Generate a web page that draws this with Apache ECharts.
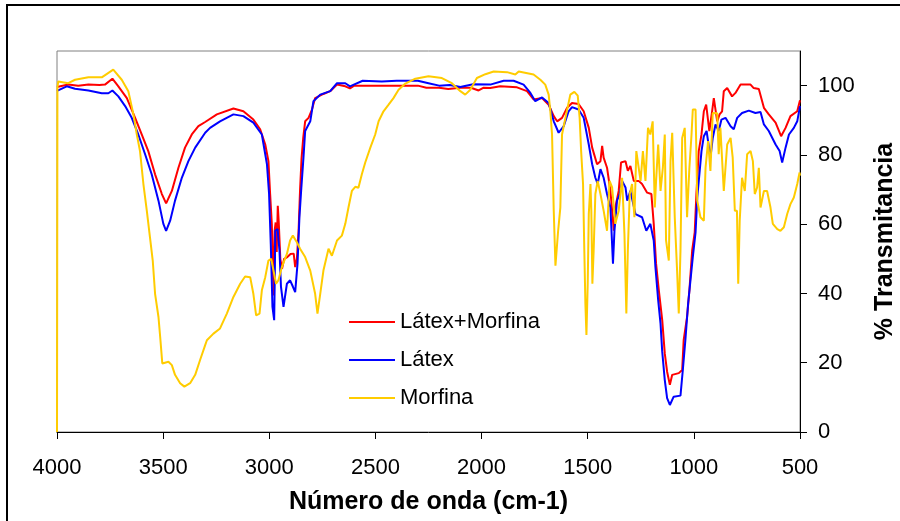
<!DOCTYPE html>
<html>
<head>
<meta charset="utf-8">
<script src="https://cdn.jsdelivr.net/npm/echarts@6/dist/echarts.min.js"></script>
<style>
  html, body { margin: 0; padding: 0; background: #fff; }
  #echarts { width: 900px; height: 521px; }
</style>
</head>
<body>
<div id="echarts"></div>
<script>
// espectros IR: [numero de onda (cm-1), % transmitancia]
const latexMorfina = [
    [4000, 99.6], [3994, 99.8], [3947, 100.3], [3900, 100.0], [3852, 100.3], [3800, 100.2], [3774, 100.3],
    [3739, 102.0], [3711, 99.8], [3671, 96.4], [3632, 90.7], [3601, 85.9], [3570, 81.1], [3538, 74.4],
    [3506, 68.7], [3486, 66.0], [3459, 69.6], [3428, 76.3], [3397, 82.1], [3365, 85.9], [3334, 88.3],
    [3302, 89.5], [3247, 91.7], [3169, 93.4], [3122, 92.6], [3075, 90.2], [3043, 87.4], [3019, 83.0],
    [3004, 78.2], [2996, 68.7], [2988, 60.0], [2982, 45.0], [2979, 39.4], [2975, 58.0], [2970, 60.5],
    [2965, 52.0], [2960, 65.3], [2955, 60.0], [2948, 50.0], [2940, 47.1], [2930, 50.0], [2915, 50.5],
    [2900, 51.4], [2885, 51.5], [2878, 47.6], [2870, 50.0], [2862, 58.0], [2855, 70.0], [2848, 79.0],
    [2840, 85.0], [2831, 89.7], [2815, 90.7], [2799, 93.1], [2784, 96.4], [2745, 97.6], [2713, 98.4],
    [2681, 100.3], [2642, 99.8], [2620, 99.2], [2600, 100.0], [2500, 100.0], [2400, 100.0], [2300, 100.0],
    [2260, 99.4], [2200, 99.4], [2157, 99.0], [2100, 99.4], [2050, 99.4], [2014, 98.6], [1990, 99.4],
    [1959, 99.3], [1912, 99.8], [1833, 99.5], [1786, 98.4], [1755, 96.0], [1715, 96.4], [1684, 94.5],
    [1660, 91.2], [1644, 89.7], [1621, 90.7], [1597, 93.6], [1574, 95.0], [1543, 94.7], [1519, 92.6],
    [1495, 87.8], [1479, 82.1], [1456, 77.3], [1440, 78.2], [1432, 82.6], [1425, 79.2], [1409, 76.3],
    [1393, 69.6], [1377, 58.1], [1370, 64.8], [1354, 69.6], [1343, 77.8], [1322, 78.2], [1311, 75.4],
    [1299, 76.8], [1283, 72.5], [1260, 72.5], [1244, 71.6], [1220, 69.1], [1200, 68.7], [1189, 60.1],
    [1178, 48.6], [1165, 40.9], [1149, 32.3], [1137, 22.7], [1126, 17.4], [1113, 13.6], [1102, 16.5],
    [1071, 17.0], [1055, 17.9], [1048, 26.5], [1032, 33.2], [1021, 40.9], [1008, 52.4], [996, 57.6],
    [988, 68.7], [977, 81.1], [964, 85.9], [953, 92.6], [942, 94.5], [935, 94.0], [927, 86.9], [914, 92.6],
    [906, 96.4], [898, 96.9], [890, 89.7], [879, 91.7], [867, 92.6], [859, 98.4], [843, 99.3], [820, 96.9],
    [804, 97.9], [780, 100.3], [733, 100.3], [718, 99.3], [694, 99.0], [670, 93.6], [647, 91.7], [615, 89.3],
    [589, 85.4], [568, 87.8], [545, 91.2], [513, 92.6], [500, 95.8]
];

const latex = [
    [4000, 98.5], [3994, 98.8], [3954, 99.8], [3915, 99.1], [3852, 98.6], [3789, 97.8], [3758, 97.8],
    [3739, 98.6], [3711, 96.9], [3679, 94.1], [3648, 90.7], [3617, 85.9], [3585, 80.2], [3554, 74.4],
    [3522, 66.8], [3499, 60.1], [3486, 58.1], [3467, 61.0], [3444, 66.8], [3412, 73.4], [3381, 78.2],
    [3349, 82.1], [3302, 86.4], [3279, 87.8], [3232, 89.7], [3169, 91.7], [3122, 91.2], [3075, 89.3],
    [3035, 85.9], [3011, 77.3], [3001, 68.7], [2993, 54.3], [2985, 36.1], [2977, 32.3], [2974, 45.0],
    [2972, 58.1], [2961, 58.6], [2952, 52.4], [2945, 42.0], [2933, 36.1], [2917, 42.8], [2902, 43.8],
    [2889, 42.0], [2878, 40.4], [2867, 48.6], [2858, 62.0], [2850, 69.6], [2839, 79.2], [2831, 86.9],
    [2807, 89.7], [2792, 95.5], [2760, 97.4], [2713, 98.4], [2681, 100.7], [2642, 100.7], [2620, 99.8],
    [2560, 101.4], [2470, 101.2], [2400, 101.4], [2300, 101.4], [2250, 100.7], [2200, 100.0], [2150, 100.2],
    [2100, 99.6], [2040, 100.4], [1959, 100.3], [1896, 101.4], [1849, 101.4], [1802, 100.3], [1770, 97.9],
    [1747, 95.5], [1715, 96.6], [1684, 95.0], [1660, 89.7], [1637, 86.4], [1613, 88.3], [1590, 92.6],
    [1574, 93.8], [1543, 93.1], [1519, 90.7], [1495, 83.0], [1479, 77.3], [1464, 73.4], [1453, 71.6],
    [1440, 75.9], [1425, 73.4], [1409, 68.7], [1393, 64.8], [1381, 48.6], [1374, 58.1], [1362, 66.8],
    [1349, 68.7], [1338, 72.5], [1322, 70.6], [1314, 66.8], [1299, 69.6], [1275, 62.9], [1244, 62.0],
    [1224, 58.1], [1205, 60.1], [1189, 55.3], [1181, 47.6], [1168, 38.0], [1157, 31.3], [1149, 23.2],
    [1137, 15.0], [1126, 9.8], [1113, 7.8], [1095, 10.2], [1063, 10.5], [1052, 17.9], [1040, 26.5],
    [1027, 37.1], [1016, 43.8], [1005, 50.5], [992, 57.6], [984, 67.7], [974, 74.4], [964, 81.1],
    [953, 85.4], [940, 86.9], [922, 79.2], [911, 84.9], [898, 88.8], [883, 86.9], [870, 90.2], [851, 90.7],
    [827, 88.3], [812, 87.4], [796, 90.7], [773, 92.1], [741, 92.8], [710, 92.1], [686, 92.4], [670, 88.8],
    [647, 86.9], [615, 83.0], [596, 81.1], [584, 77.8], [568, 82.1], [552, 85.9], [529, 87.8], [513, 89.7],
    [500, 94.1]
];

const morfina = [
    [4000, 0], [3998, 99.5], [3994, 101.2], [3947, 100.7], [3915, 101.7], [3852, 102.4], [3789, 102.4],
    [3735, 104.6], [3695, 101.7], [3664, 98.4], [3640, 91.7], [3624, 85.9], [3609, 81.1], [3593, 71.6],
    [3577, 63.9], [3562, 56.2], [3549, 49.5], [3538, 39.9], [3522, 33.2], [3514, 27.5], [3504, 19.8],
    [3475, 20.3], [3459, 19.3], [3444, 16.5], [3420, 14.1], [3400, 13.1], [3373, 14.1], [3349, 16.5],
    [3326, 20.8], [3302, 25.1], [3294, 26.5], [3263, 28.4], [3232, 29.9], [3200, 34.2], [3169, 39.0],
    [3137, 42.8], [3114, 44.9], [3090, 44.7], [3075, 39.9], [3062, 33.7], [3046, 34.2], [3035, 40.9],
    [3019, 44.7], [3004, 49.5], [2991, 50.0], [2980, 46.6], [2968, 42.8], [2957, 43.8], [2941, 47.6],
    [2917, 51.4], [2902, 55.3], [2889, 56.7], [2870, 54.8], [2855, 52.9], [2831, 50.5], [2807, 46.6],
    [2784, 39.9], [2773, 34.2], [2760, 39.9], [2745, 46.6], [2721, 52.9], [2705, 50.9], [2681, 55.3],
    [2658, 56.7], [2642, 60.1], [2627, 64.8], [2611, 69.6], [2595, 70.8], [2580, 70.5], [2564, 74.4],
    [2548, 77.8], [2524, 82.1], [2501, 85.9], [2485, 89.7], [2462, 92.6], [2438, 94.5], [2415, 96.4],
    [2391, 98.8], [2359, 100.6], [2312, 102.0], [2250, 102.7], [2187, 102.2], [2140, 100.7], [2100, 98.4],
    [2077, 97.4], [2053, 98.8], [2022, 102.2], [1982, 103.3], [1943, 104.1], [1880, 103.9], [1841, 103.2],
    [1825, 104.1], [1755, 103.2], [1723, 101.7], [1700, 100.3], [1684, 97.4], [1676, 92.6], [1668, 85.9],
    [1660, 63.9], [1652, 48.0], [1647, 48.0], [1640, 57.6], [1629, 64.8], [1621, 85.9], [1605, 90.7],
    [1582, 97.4], [1563, 98.2], [1547, 97.1], [1538, 90.7], [1531, 81.1], [1522, 71.6], [1516, 52.4],
    [1511, 37.1], [1506, 28.0], [1500, 42.8], [1495, 62.9], [1487, 71.6], [1483, 63.9], [1478, 42.8],
    [1472, 52.4], [1464, 68.7], [1453, 72.5], [1440, 68.7], [1425, 63.9], [1409, 58.1], [1397, 72.5],
    [1385, 70.6], [1370, 60.1], [1354, 63.9], [1338, 73.4], [1327, 57.2], [1318, 34.2], [1311, 52.4],
    [1302, 68.7], [1291, 71.6], [1280, 62.0], [1271, 81.1], [1260, 76.3], [1251, 72.5], [1240, 81.1],
    [1228, 72.5], [1216, 87.8], [1205, 85.9], [1194, 89.7], [1184, 64.8], [1178, 72.5], [1168, 83.0],
    [1157, 69.6], [1146, 76.3], [1137, 85.9], [1131, 55.3], [1118, 49.5], [1110, 78.2], [1102, 86.4],
    [1090, 62.0], [1079, 46.6], [1071, 34.2], [1063, 52.4], [1055, 84.9], [1043, 87.8], [1032, 62.0],
    [1021, 76.3], [1011, 85.9], [1005, 93.1], [992, 93.1], [984, 66.8], [969, 62.0], [953, 61.0],
    [945, 76.3], [933, 84.0], [922, 75.4], [911, 92.1], [890, 92.0], [883, 80.2], [875, 87.8], [859, 69.6],
    [843, 83.0], [827, 84.9], [817, 79.2], [807, 63.9], [797, 63.9], [791, 42.8], [784, 61.0], [773, 73.4],
    [760, 69.6], [749, 80.2], [733, 81.1], [722, 78.2], [713, 68.7], [702, 70.6], [694, 76.3], [686, 64.8],
    [670, 69.6], [655, 69.6], [639, 64.8], [628, 60.1], [607, 58.6], [592, 58.1], [576, 59.1], [560, 63.0],
    [545, 65.8], [529, 67.7], [513, 71.6], [502, 74.9], [500, 74.0]
];

const seriesNames = ['Látex+Morfina', 'Látex', 'Morfina'];
const seriesColors = ['#ff0000', '#0000ff', '#ffcc00'];
const yTicks = [0, 20, 40, 60, 80, 100];

const font = 'Liberation Sans, Arial, sans-serif';

let createEchart = function (domId, option) {
    let chart = echarts.init(document.getElementById(domId), null, { renderer: 'canvas' });
    chart.setOption(option);
    return chart;
};

let lineSeries = function (name, data, color) {
    return {
        name: name,
        type: 'line',
        data: data,
        symbol: 'none',
        showSymbol: false,
        color: color,
        lineStyle: { color: color, width: 2 },
        z: 3
    };
};

let spectraChart = function () {
    return {
        animation: false,
        backgroundColor: '#ffffff',
        textStyle: { fontFamily: font },
        grid: {
            left: 57, right: 100, top: 51, bottom: 89,
            outerBoundsMode: 'none',
            show: true, borderColor: '#808080', borderWidth: 1
        },
        legend: {
            orient: 'vertical',
            left: 344, top: 306,
            data: seriesNames,
            icon: 'rect',
            itemWidth: 46, itemHeight: 2, itemGap: 16,
            textStyle: { fontSize: 22, color: '#000', fontFamily: font, lineHeight: 22 }
        },
        xAxis: {
            type: 'value',
            inverse: true,
            min: 500, max: 4000, interval: 500,
            name: 'Número de onda (cm-1)',
            nameLocation: 'middle',
            nameGap: 58,
            nameTextStyle: { fontSize: 25, fontWeight: 'bold', color: '#000', fontFamily: font },
            axisLine: { lineStyle: { color: '#000', width: 1 } },
            axisTick: { length: 7, lineStyle: { color: '#000' } },
            axisLabel: {
                fontSize: 22, color: '#000', margin: 25, fontFamily: font,
                formatter: function (v) { return String(v); }
            },
            splitLine: { show: false }
        },
        yAxis: {
            type: 'value',
            position: 'right',
            min: 0, max: 110, interval: 20,
            name: '% Transmitancia',
            nameLocation: 'middle',
            nameRotate: 90,
            nameGap: 73,
            nameTextStyle: { fontSize: 25, fontWeight: 'bold', color: '#000', fontFamily: font },
            axisLine: { show: true, lineStyle: { color: '#000', width: 1 } },
            axisTick: { show: true, length: 7, customValues: yTicks, lineStyle: { color: '#000' } },
            axisLabel: { fontSize: 22, color: '#000', margin: 18, customValues: yTicks, fontFamily: font },
            splitLine: { show: false }
        },
        // marco exterior del grafico
        graphic: [{
            type: 'rect',
            shape: { x: 7, y: 5, width: 1000, height: 1000 },
            style: { fill: 'none', stroke: '#000', lineWidth: 2 },
            silent: true
        }],
        series: [
            lineSeries(seriesNames[0], latexMorfina, seriesColors[0]),
            lineSeries(seriesNames[1], latex, seriesColors[1]),
            lineSeries(seriesNames[2], morfina, seriesColors[2])
        ]
    };
};

window.onload = function () {
    createEchart('echarts', spectraChart());
};
</script>
</body>
</html>
